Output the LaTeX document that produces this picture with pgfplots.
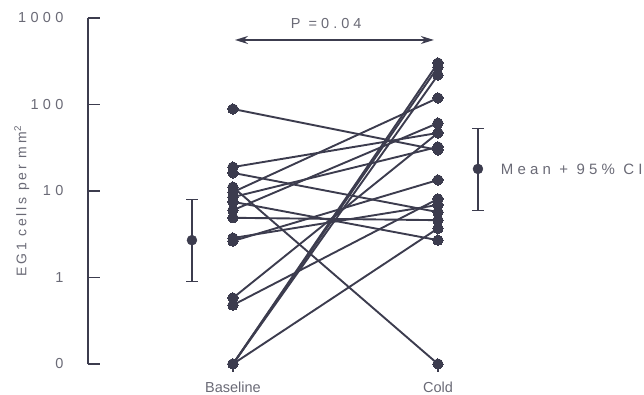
\documentclass[border=0pt]{standalone}
\usepackage{fontspec}
\setmainfont{Liberation Sans}
\newfontfamily\spaced[LetterSpace=30]{Liberation Sans}
\newfontfamily\spacedb[LetterSpace=20]{Liberation Sans}
\newfontfamily\spacedc[LetterSpace=28]{Liberation Sans}
\usepackage{pgfplots}
\pgfplotsset{compat=1.18}
\usetikzlibrary{arrows.meta}
\definecolor{ink}{HTML}{3C3C4E}
\definecolor{txt}{HTML}{6A6A76}
\pgfplotsset{pair/.style={ink, line width=1.9pt, mark=*, mark size=5.2pt, mark options={solid, fill=ink, draw=ink, line width=0pt}}}
\begin{document}
\begin{tikzpicture}
\path[use as bounding box] (-88pt,-31pt) rectangle (556pt,364pt);
\begin{axis}[
 scale only axis, width=556pt, height=346pt,
 at={(0,0)}, anchor=south west,
 clip=false,
 xmin=0.293, xmax=3.005,
 ymode=log, ymin=0.1, ymax=1000,
 axis lines*=left,
 x axis line style={draw=none},
 y axis line style={ink, line width=1.8pt},
 ytick={0.1,1,10,100,1000}, yticklabels={0,1,10,100,1000},
 yminorticks=false,
 tick align=inside,
 major tick length=12pt,
 y tick style={ink, line width=1.8pt},
 xtick={1,2}, xticklabels={Baseline,Cold},
 x tick style={draw=none},
 yticklabel style={font=\spaced\fontsize{14.5}{16}\selectfont, text=txt, xshift=-21pt},
 xticklabel style={font=\fontsize{14.5}{16}\selectfont, text=txt, yshift=-14pt},
 /pgf/number format/assume math mode=true,
]
\addplot[pair] coordinates {(1,88.7) (2,29.8)};
\addplot[pair] coordinates {(1,18.9) (2,46.9)};
\addplot[pair] coordinates {(1,16.2) (2,5.7)};
\addplot[pair] coordinates {(1,11.1) (2,0.1)};
\addplot[pair] coordinates {(1,9.7) (2,119)};
\addplot[pair] coordinates {(1,8.5) (2,32.3)};
\addplot[pair] coordinates {(1,7.5) (2,2.7)};
\addplot[pair] coordinates {(1,6.0) (2,61)};
\addplot[pair] coordinates {(1,4.9) (2,4.6)};
\addplot[pair] coordinates {(1,2.86) (2,6.9)};
\addplot[pair] coordinates {(1,2.64) (2,13.4)};
\addplot[pair] coordinates {(1,0.58) (2,46.9)};
\addplot[pair] coordinates {(1,0.48) (2,8.1)};
\addplot[pair] coordinates {(1,0.1) (2,302)};
\addplot[pair] coordinates {(1,0.1) (2,271)};
\addplot[pair] coordinates {(1,0.1) (2,219)};
\addplot[pair] coordinates {(1,0.1) (2,3.7)};
% means and CI
\addplot[ink, line width=1.8pt] coordinates {(0.8,0.91) (0.8,8.1)};
\addplot[ink, line width=0.8pt, only marks, mark=-, mark size=6pt] coordinates {(0.8,0.91) (0.8,8.1)};
\addplot[ink, only marks, mark=*, mark size=5pt] coordinates {(0.8,2.7)};
\addplot[ink, line width=1.8pt] coordinates {(2.195,5.9) (2.195,53.5)};
\addplot[ink, line width=0.8pt, only marks, mark=-, mark size=6pt] coordinates {(2.195,5.9) (2.195,53.5)};
\addplot[ink, only marks, mark=*, mark size=5pt] coordinates {(2.195,18)};
% x tick stems
\draw[ink, line width=1.8pt] (axis cs:1,0.1) -- ([yshift=-8pt]axis cs:1,0.1);
\draw[ink, line width=1.8pt] (axis cs:2,0.1) -- ([yshift=-8pt]axis cs:2,0.1);
% p-value arrow
\draw[ink, line width=1.5pt, {Stealth[length=13pt,width=8pt]}-{Stealth[length=13pt,width=8pt]}] (axis cs:1.01,557) -- (axis cs:1.98,557);
\node[font=\spacedc\fontsize{14.5}{16}\selectfont, text=txt] at (axis cs:1.455,870) {P =0.04};
\node[font=\spacedc\fontsize{15}{17}\selectfont, text=txt, anchor=west] at (axis cs:2.29,18) {Mean + 95\% CI};
\node[rotate=90, font=\spacedb\fontsize{14}{16}\selectfont, text=txt] at (rel axis cs:-0.119,0.47) {EG1 cells per mm\textsuperscript{2}};
\end{axis}
\end{tikzpicture}
\end{document}
